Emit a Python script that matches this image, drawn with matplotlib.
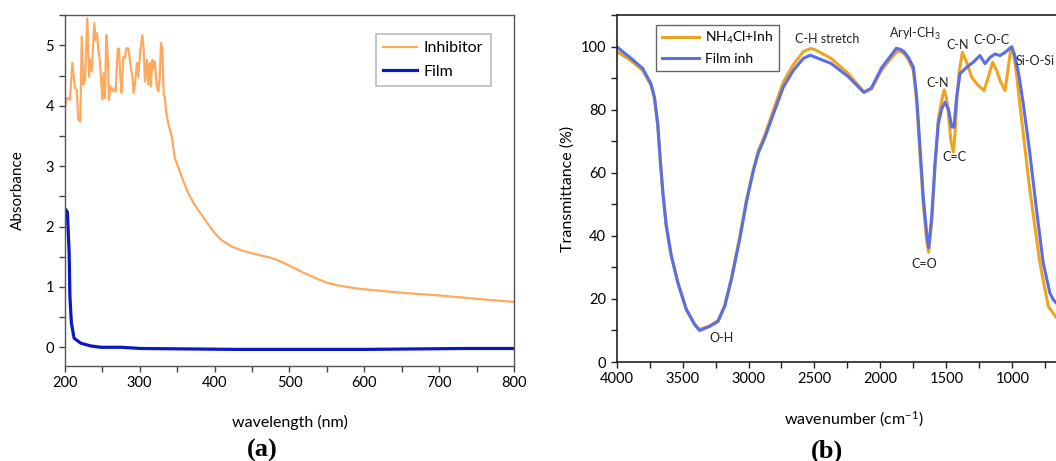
import matplotlib
matplotlib.use("Agg")
import matplotlib.pyplot as plt
from matplotlib.ticker import MultipleLocator, FixedLocator

plt.rcParams['font.family'] = ['Lato', 'DejaVu Sans']
plt.rcParams['mathtext.default'] = 'regular'

# ---------------- (a) UV-Vis data ----------------
inh_wl = [200.5, 202.7, 207.1, 210.2, 213.8, 216.1, 218.2, 220.9, 222.8, 224.9, 227.2, 230.2, 232.5,
          233.8, 236.1, 239.6, 241.4, 243.2, 244.9, 246.8, 248.5, 250.2, 252.1, 253.8, 255.6, 257.5,
          259.2, 260.9, 263.6, 266.3, 268.1, 270.8, 272.5, 274.3, 276.1, 278.3, 280.5, 282.3, 284.9,
          287.6, 290.3, 292.2, 293.9, 296.6, 298.3, 301.0, 303.6, 305.5, 307.2, 309.9, 311.6, 313.5,
          315.2, 317.0, 318.9, 320.6, 322.9, 325.0, 326.9, 328.6, 330.3, 332.2, 333.9, 335.3, 338.3,
          342.9, 347, 352, 358.7, 365, 374, 383, 392, 401, 410, 424, 437, 455, 473, 487, 500, 518,
          536, 550, 563, 586, 608, 653, 698, 743, 800]
inh_abs = [3.99, 4.13, 4.10, 4.71, 4.29, 4.26, 3.77, 3.74, 5.15, 4.35, 4.43, 5.45, 4.48,
           4.76, 4.57, 5.37, 5.09, 5.20, 4.93, 4.76, 4.48, 4.10, 4.54, 4.13, 5.17, 4.81,
           4.10, 4.32, 4.24, 4.29, 4.24, 4.93, 4.95, 4.48, 4.21, 4.81, 4.79, 4.95, 4.95,
           4.71, 4.48, 4.21, 4.37, 4.71, 4.48, 4.93, 5.17, 4.93, 4.40, 4.76, 4.35, 4.71,
           4.32, 4.76, 4.62, 4.73, 4.32, 4.24, 4.48, 5.04, 4.93, 4.18, 4.13, 3.90, 3.71,
           3.49, 3.13, 2.97, 2.74, 2.55, 2.35, 2.19, 2.03, 1.88, 1.77, 1.66, 1.60, 1.54, 1.49, 1.43, 1.35, 1.24,
           1.14, 1.07, 1.03, 0.98, 0.95, 0.90, 0.86, 0.81, 0.75]
film_wl = [202, 203.6, 206, 207, 209, 212.6, 221.6, 235, 248.5, 275.5, 302, 428, 600, 734, 800]
film_abs = [2.27, 2.24, 1.57, 0.85, 0.40, 0.15, 0.067, 0.022, 0.0, 0.0, -0.02, -0.035, -0.035, -0.02, -0.02]

# ---------------- (b) FTIR data ----------------
film_wn = [4000, 3904, 3802, 3739, 3713, 3688, 3670, 3650, 3624, 3586, 3536, 3472, 3409, 3371,
           3294, 3231, 3180, 3129, 3066, 3015, 2964, 2926, 2876, 2812, 2736, 2660, 2584, 2533,
           2502, 2374, 2246, 2125, 2068, 1991, 1915, 1880, 1850, 1820, 1788, 1750, 1725, 1700,
           1675, 1649, 1634, 1611, 1586, 1561, 1535, 1510, 1485, 1459, 1442, 1422, 1397, 1346,
           1296, 1245, 1207, 1169, 1131, 1093, 1055, 1004, 980, 950, 919, 868, 817, 766, 715,
           690, 669, 640]
film_T = [100, 96.8, 93.1, 88.2, 84.0, 75.4, 64.7, 54.1, 43.4, 33.8, 25.2, 16.7, 11.9, 10.0,
          11.3, 12.9, 17.7, 26.3, 39.1, 50.9, 60.5, 66.3, 71.2, 78.6, 87.2, 92.5, 96.3, 97.3,
          96.8, 94.7, 90.6, 85.5, 86.9, 93.3, 97.5, 99.5, 99.2, 98.4, 96.6, 93.5, 84.0, 68.2,
          52.3, 40.7, 36.3, 46.0, 62.9, 75.6, 80.3, 82.4, 80.3, 74.5, 74.5, 84.0, 91.4, 93.5,
          95.1, 97.2, 94.6, 96.6, 97.7, 97.2, 98.2, 100, 97, 91, 82.6, 66.6, 48.5, 31.5, 21.9,
          19.8, 18.8, 17.8]
nh4_wn = [4000, 3904, 3802, 3739, 3713, 3688, 3670, 3650, 3624, 3586, 3536, 3472, 3409, 3371,
          3294, 3231, 3180, 3129, 3066, 3015, 2964, 2926, 2876, 2812, 2736, 2660, 2584, 2533,
          2502, 2374, 2246, 2125, 2068, 1991, 1915, 1870, 1850, 1820, 1788, 1750, 1725, 1700,
          1675, 1649, 1634, 1611, 1586, 1561, 1535, 1516, 1500, 1485, 1465, 1447, 1435, 1422,
          1403, 1379, 1346, 1308, 1258, 1215, 1182, 1149, 1118, 1093, 1055, 1030, 1012, 992,
          970, 945, 868, 791, 727, 669, 640]
nh4_T = [98.5, 96.0, 92.5, 87.8, 83.5, 75.0, 64.5, 54.0, 43.3, 33.8, 25.3, 16.8, 12.1, 10.3,
         11.5, 13.1, 18.0, 26.8, 39.8, 51.5, 61.0, 67.0, 72.0, 79.8, 88.8, 94.3, 98.5, 99.4,
         99.2, 96.3, 91.6, 85.7, 86.6, 92.6, 96.6, 98.6, 98.5, 97.8, 96.0, 92.5, 82.5, 66.0,
         50.0, 38.5, 34.8, 44.5, 62.0, 77.0, 83.0, 86.3, 84.0, 79.0, 70.0, 66.6, 72.0, 82.0,
         92.0, 98.2, 95.1, 90.3, 87.7, 86.1, 90.3, 95.1, 92.4, 89.3, 86.1, 93.5, 99.3, 98.2,
         92.0, 82.6, 54.9, 31.5, 17.6, 14.2, 13.6]

ann_text = ['C-H stretch', 'Aryl-CH$_3$', 'C-N', 'C-O-C', 'Si-O-Si', 'C-N', 'C=C', 'C=O', 'O-H']
ann_wn = [2402, 1738, 1417, 1156, 824, 1563, 1440, 1664, 3206]
ann_T = [102.3, 103.9, 100.7, 102.1, 95.4, 88.5, 65, 31.2, 7.5]

fig = plt.figure(figsize=(10.56, 4.61), dpi=100)
W, H = 1056.0, 461.0

# ---- panel (a)
ax1 = fig.add_axes([64.65/W, 1-366/H, 449.6/W, 350.8/H])
ax1.plot(inh_wl, inh_abs, color='#FFA95E', lw=1.6, label='Inhibitor')
ax1.plot(film_wl, film_abs, color='#0A17C4', lw=2.3, label='Film')
ax1.set_xlim(200, 800)
ax1.set_ylim(-0.31, 5.5)
ax1.xaxis.set_major_locator(MultipleLocator(100))
ax1.xaxis.set_minor_locator(MultipleLocator(50))
ax1.yaxis.set_major_locator(MultipleLocator(1))
ax1.yaxis.set_minor_locator(MultipleLocator(0.5))
for s in ax1.spines.values():
    s.set_color('#555555')
    s.set_linewidth(1.0)
ax1.tick_params(which='both', direction='out', length=4, width=1, color='#444444', labelsize=10.5)
ax1.set_xlabel('wavelength (nm)', fontsize=11.5, labelpad=18)
ax1.set_ylabel('Absorbance', fontsize=11, labelpad=15)
leg1 = ax1.legend(loc='upper left', bbox_to_anchor=(0.6925, 0.947), borderaxespad=0,
                  fontsize=11.5, handlelength=2.1, handletextpad=0.45, fancybox=False,
                  edgecolor='#BBBBBB', framealpha=1, labelspacing=0.6, borderpad=0.45)
leg1.get_frame().set_linewidth(1.2)
fig.text(262/W, 1-450/H, '(a)', family='Liberation Serif', weight='bold', fontsize=19,
         ha='center', va='center')

# ---- panel (b)
ax2 = fig.add_axes([616.6/W, 1-362/H, 3600*0.1319/W, 346.8/H])
ax2.plot(nh4_wn, nh4_T, color='#EDA51F', lw=2.2, label='NH$_4$Cl+Inh')
ax2.plot(film_wn, film_T, color='#5A6EE6', lw=2.2, label='Film inh')
ax2.set_xlim(4000, 400)
ax2.set_ylim(0, 110)
ax2.xaxis.set_major_locator(FixedLocator([4000, 3500, 3000, 2500, 2000, 1500, 1000]))
ax2.xaxis.set_minor_locator(MultipleLocator(250))
ax2.yaxis.set_major_locator(MultipleLocator(20))
ax2.yaxis.set_minor_locator(MultipleLocator(10))
for s in ax2.spines.values():
    s.set_color('#222222')
    s.set_linewidth(1.2)
ax2.tick_params(which='both', direction='out', length=4, width=1, color='#222222', labelsize=10.5)
ax2.set_xlabel('wavenumber (cm$^{-1}$)', fontsize=11.5, labelpad=17)
ax2.set_ylabel('Transmittance (%)', fontsize=11.5)
ax2.yaxis.set_label_coords(-0.088, 0.5)
leg2 = ax2.legend(loc='upper left', bbox_to_anchor=(0.083, 0.973), borderaxespad=0,
                  fontsize=10, handlelength=2.7, handletextpad=0.4, fancybox=False,
                  edgecolor='#666666', framealpha=1, labelspacing=0.5, borderpad=0.4)
leg2.get_frame().set_linewidth(1.0)
for t, x, y in zip(ann_text, ann_wn, ann_T):
    ax2.text(x, y, t, fontsize=9, ha='center', va='center', color='#222222')
fig.text(827/W, 1-451/H, '(b)', family='Liberation Serif', weight='bold', fontsize=19,
         ha='center', va='center')

fig.savefig('out.png', dpi=100)
